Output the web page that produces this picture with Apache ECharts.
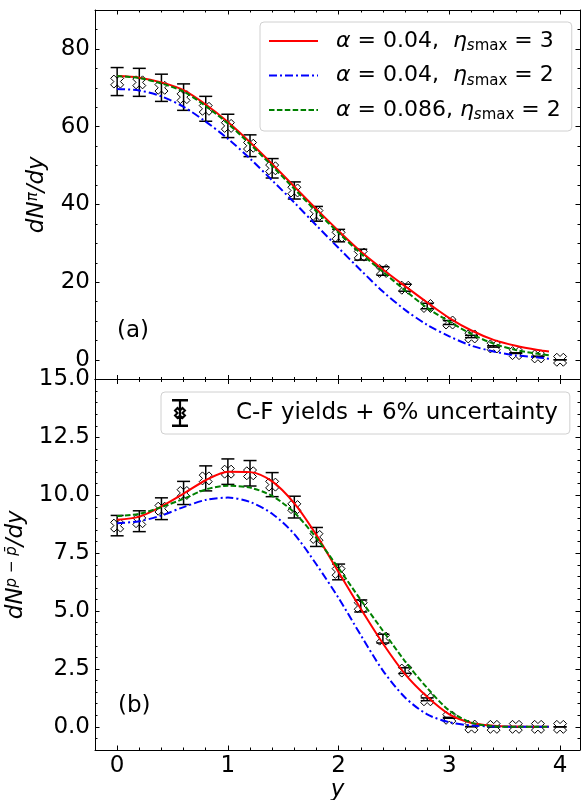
<!DOCTYPE html>
<html>
<head>
<meta charset="utf-8">
<script src="https://cdn.jsdelivr.net/npm/echarts@6/dist/echarts.min.js"></script>
<style>
  html, body { margin: 0; padding: 0; background: #fff; }
  #main { width: 583px; height: 800px; }
</style>
</head>
<body>
<div id="main"></div>
<script>
// rapidity grid of the model curves
const curveX = [0, 0.2, 0.4, 0.6, 0.8, 1.0, 1.2, 1.4, 1.6, 1.8, 2.0, 2.2, 2.4, 2.6, 2.8, 3.0, 3.2, 3.4, 3.6, 3.8, 3.9];
// (a) pions
const piRed = [73.0, 72.6, 71.4, 69.4, 65.7, 61.2, 56.0, 50.4, 44.6, 38.8, 33.2, 27.9, 23.3, 19.0, 14.8, 10.8, 7.6, 5.2, 3.7, 2.6, 2.2];
const piBlue = [69.7, 69.3, 67.8, 65.1, 61.3, 56.9, 51.8, 46.2, 40.5, 34.6, 28.8, 23.1, 17.6, 12.9, 9.05, 6.1, 3.7, 2.2, 1.2, 0.68, 0.33];
const piGreen = [73.0, 72.5, 71.1, 69.0, 65.3, 60.8, 55.5, 49.9, 44.0, 38.2, 32.7, 27.4, 22.7, 17.9, 13.4, 9.9, 6.7, 4.2, 2.6, 1.6, 1.2];
// (b) net protons
const pRed = [8.94, 9.08, 9.52, 10.07, 10.65, 11.02, 11.0, 10.6, 9.65, 8.28, 6.68, 5.1, 3.6, 2.28, 1.3, 0.54, 0.17, 0.05, 0.01, 0, 0];
const pBlue = [8.79, 8.88, 9.13, 9.49, 9.8, 9.9, 9.71, 9.2, 8.32, 7.01, 5.56, 3.96, 2.43, 1.27, 0.54, 0.2, 0.06, 0.02, 0, 0, 0];
const pGreen = [9.1, 9.2, 9.49, 9.85, 10.25, 10.41, 10.33, 9.97, 9.25, 8.15, 6.85, 5.48, 4.15, 2.83, 1.68, 0.7, 0.18, 0.03, 0, 0, 0];

// C-F yields with error bars
const yieldX = [0, 0.2, 0.4, 0.6, 0.8, 1.0, 1.2, 1.4, 1.6, 1.8, 2.0, 2.2, 2.4, 2.6, 2.8, 3.0, 3.2, 3.4, 3.6, 3.8, 4.0];
const piYield = [71.6, 71.4, 70.0, 67.6, 64.6, 60.2, 55.1, 49.3, 43.6, 37.6, 32.0, 27.1, 22.9, 18.6, 13.9, 9.65, 6.06, 3.5, 1.78, 0.93, 0.08];
const piErr = [3.6, 3.6, 3.5, 3.4, 3.2, 3.0, 2.8, 2.5, 2.2, 1.9, 1.6, 1.4, 1.1, 0.9, 0.7, 0.5, 0.3, 0.18, 0.09, 0.05, 0];
const pYield = [8.69, 8.88, 9.42, 10.1, 10.73, 11.02, 10.95, 10.46, 9.49, 8.2, 6.69, 5.22, 3.81, 2.43, 1.19, 0.39, 0.01, 0, 0, 0, 0];
const pErr = [0.44, 0.45, 0.47, 0.5, 0.54, 0.55, 0.55, 0.52, 0.47, 0.41, 0.34, 0.26, 0.19, 0.12, 0.06, 0.02, 0, 0, 0, 0, 0];

// tick labels
const xTicks = [0, 1, 2, 3, 4];
const piTicks = [0, 20, 40, 60, 80];
const pTicks = [0, 2.5, 5, 7.5, 10, 12.5, 15];

const NAME_RED = 'a=0.04 eta=3';
const NAME_BLUE = 'a=0.04 eta=2';
const NAME_GREEN = 'a=0.086 eta=2';
const NAME_DATA = 'C-F yields + 6% uncertainty';
const legendText = {};
legendText[NAME_RED] = '{i|α} = 0.04,  {i|η}{s|s}{m|max} = 3';
legendText[NAME_BLUE] = '{i|α} = 0.04,  {i|η}{s|s}{m|max} = 2';
legendText[NAME_GREEN] = '{i|α} = 0.086, {i|η}{s|s}{m|max} = 2';

const FONT = 'DejaVu Sans';
const X_MARK = 'path://M75 0L100 25L75 50L100 75L75 100L50 75L25 100L0 75L25 50L0 25L25 0L50 25Z';
const LEG_MARK = 'path://M69 0H71V260H69Z M0 0H140V6H0Z M0 254H140V260H0Z ' +
  'M95 80L120 105L95 130L120 155L95 180L70 155L45 180L20 155L45 130L20 105L45 80L70 105Z';

let chart = echarts.init(document.getElementById('main'));

const tickStyle = { color: '#000', width: 1 };
const labelStyle = { color: '#000', fontSize: 23, fontFamily: FONT };
const nameRich = {
  i: { fontStyle: 'italic', fontSize: 23, fontFamily: FONT, color: '#000' },
  sup: { fontStyle: 'italic', fontSize: 15, fontFamily: FONT, color: '#000', verticalAlign: 'top', lineHeight: 12 }
};

// one frame = major + minor axis on each of the four sides
function xAxes(grid, withLabels) {
  const out = [];
  ['bottom', 'top'].forEach(function (pos) {
    const base = {
      type: 'value', gridIndex: grid, position: pos, min: -0.2, max: 4.18,
      splitLine: { show: false }
    };
    const major = Object.assign({}, base, {
      axisLine: { show: true, onZero: false, lineStyle: tickStyle },
      axisTick: { show: true, inside: true, length: 4.5, customValues: xTicks, lineStyle: tickStyle },
      axisLabel: { show: withLabels && pos === 'bottom', customValues: xTicks, margin: 5, ...labelStyle }
    });
    if (withLabels && pos === 'bottom') {
      major.name = '{i|y}';
      major.nameLocation = 'middle';
      major.nameGap = 28;
      major.nameTextStyle = { rich: nameRich };
    }
    out.push(major);
    out.push(Object.assign({}, base, {
      interval: 0.2,
      axisLine: { show: false, onZero: false },
      axisTick: { show: true, inside: true, length: 2.5, lineStyle: tickStyle },
      axisLabel: { show: false }
    }));
  });
  return out;
}

function yAxes(grid, min, max, minor, ticks, fmt, name, gap) {
  const out = [];
  ['left', 'right'].forEach(function (pos) {
    const base = {
      type: 'value', gridIndex: grid, position: pos, min: min, max: max,
      splitLine: { show: false }
    };
    const major = Object.assign({}, base, {
      axisLine: { show: true, onZero: false, lineStyle: tickStyle },
      axisTick: { show: true, inside: true, length: 4.5, customValues: ticks, lineStyle: tickStyle },
      axisLabel: { show: pos === 'left', customValues: ticks, margin: 5, formatter: fmt, ...labelStyle }
    });
    if (pos === 'left') {
      major.name = name;
      major.nameLocation = 'middle';
      major.nameGap = gap;
      major.nameTextStyle = { rich: nameRich };
    }
    out.push(major);
    out.push(Object.assign({}, base, {
      interval: minor,
      axisLine: { show: false, onZero: false },
      axisTick: { show: true, inside: true, length: 2.5, lineStyle: tickStyle },
      axisLabel: { show: false }
    }));
  });
  return out;
}

function pairs(xs, ys) {
  return xs.map(function (x, i) { return [x, ys[i]]; });
}

function curve(name, axis, ys, color, type) {
  return {
    name: name, type: 'line', xAxisIndex: axis.x, yAxisIndex: axis.y,
    data: pairs(curveX, ys), symbol: 'none', smooth: 0.3,
    lineStyle: { color: color, width: 2, type: type }, itemStyle: { color: color },
    z: 5, silent: true
  };
}

function renderErr(params, api) {
  const x = api.value(0), y = api.value(1), e = api.value(2);
  const hi = api.coord([x, y + e]);
  const lo = api.coord([x, y - e]);
  const hw = 6.5;
  const st = { stroke: '#000', lineWidth: 1.5 };
  return {
    type: 'group',
    children: [
      { type: 'line', shape: { x1: hi[0], y1: hi[1], x2: lo[0], y2: lo[1] }, style: st },
      { type: 'line', shape: { x1: hi[0] - hw, y1: hi[1], x2: hi[0] + hw, y2: hi[1] }, style: st },
      { type: 'line', shape: { x1: lo[0] - hw, y1: lo[1], x2: lo[0] + hw, y2: lo[1] }, style: st }
    ]
  };
}

function points(axis, ys, errs) {
  return [
    {
      name: NAME_DATA, type: 'scatter', xAxisIndex: axis.x, yAxisIndex: axis.y,
      data: pairs(yieldX, ys), symbol: X_MARK, symbolSize: 13,
      itemStyle: { color: '#fff', borderColor: '#000', borderWidth: 1, opacity: 1 },
      z: 2, silent: true
    },
    {
      type: 'custom', xAxisIndex: axis.x, yAxisIndex: axis.y,
      data: yieldX.map(function (x, i) { return [x, ys[i], errs[i]]; }),
      renderItem: renderErr, z: 3, silent: true
    }
  ];
}

const axTop = { x: 0, y: 0 };
const axBot = { x: 4, y: 4 };

const legendRich = {
  i: { fontStyle: 'italic', fontSize: 22, fontFamily: FONT, color: '#000', lineHeight: 26 },
  s: { fontStyle: 'italic', fontSize: 15, fontFamily: FONT, color: '#000', lineHeight: 9, verticalAlign: 'bottom' },
  m: { fontSize: 15, fontFamily: FONT, color: '#000', lineHeight: 9, verticalAlign: 'bottom' }
};

let option = {
  backgroundColor: '#fff',
  animation: false,
  grid: [
    { left: 95, right: 3, top: 10, height: 369.5, outerBoundsMode: 'none' },
    { left: 95, right: 3, top: 379.5, height: 370.5, outerBoundsMode: 'none' }
  ],
  xAxis: xAxes(0, false).concat(xAxes(1, true)),
  yAxis: yAxes(0, -5, 90, 5, piTicks, function (v) { return String(v); }, '{i|dN}{sup|π}{i|/dy}', 46)
    .concat(yAxes(1, -1, 15, 0.5, pTicks, function (v) { return v.toFixed(1); }, '{i|dN}{sup|p − p̄}{i|/dy}', 66)),
  legend: [
    {
      data: [NAME_RED, NAME_BLUE, NAME_GREEN],
      orient: 'vertical', left: 260, top: 22,
      itemWidth: 49, itemHeight: 14, itemGap: 8.5,
      padding: [6, 11, 8, 8],
      backgroundColor: '#fff', borderColor: '#d0d0d0', borderWidth: 1, borderRadius: 4,
      selectedMode: false,
      itemStyle: { opacity: 0 },
      formatter: function (n) { return legendText[n]; },
      textStyle: { fontSize: 22, fontFamily: FONT, color: '#000', lineHeight: 26, padding: [0, 0, 0, 13], rich: legendRich }
    },
    {
      data: [{ name: NAME_DATA, icon: LEG_MARK }],
      left: 161, top: 392,
      itemWidth: 44, itemHeight: 26, symbolKeepAspect: true,
      padding: [7, 12, 7, 11],
      backgroundColor: '#fff', borderColor: '#d0d0d0', borderWidth: 1, borderRadius: 4,
      selectedMode: false,
      textStyle: { fontSize: 23, fontFamily: FONT, color: '#000', lineHeight: 26, padding: [0, 0, 0, 29] }
    }
  ],
  graphic: [
    { type: 'text', left: 117, top: 320, style: { text: '(a)', font: '23px "DejaVu Sans"', fill: '#000' } },
    { type: 'text', left: 118, top: 695, style: { text: '(b)', font: '23px "DejaVu Sans"', fill: '#000' } }
  ],
  series: [
    curve(NAME_RED, axTop, piRed, '#ff0000', 'solid'),
    curve(NAME_BLUE, axTop, piBlue, '#0000ff', [8, 3, 2, 3]),
    curve(NAME_GREEN, axTop, piGreen, '#008000', [5.5, 2.4]),
    curve(NAME_RED, axBot, pRed, '#ff0000', 'solid'),
    curve(NAME_BLUE, axBot, pBlue, '#0000ff', [8, 3, 2, 3]),
    curve(NAME_GREEN, axBot, pGreen, '#008000', [5.5, 2.4])
  ].concat(points(axTop, piYield, piErr)).concat(points(axBot, pYield, pErr))
};

chart.setOption(option);
</script>
</body>
</html>
